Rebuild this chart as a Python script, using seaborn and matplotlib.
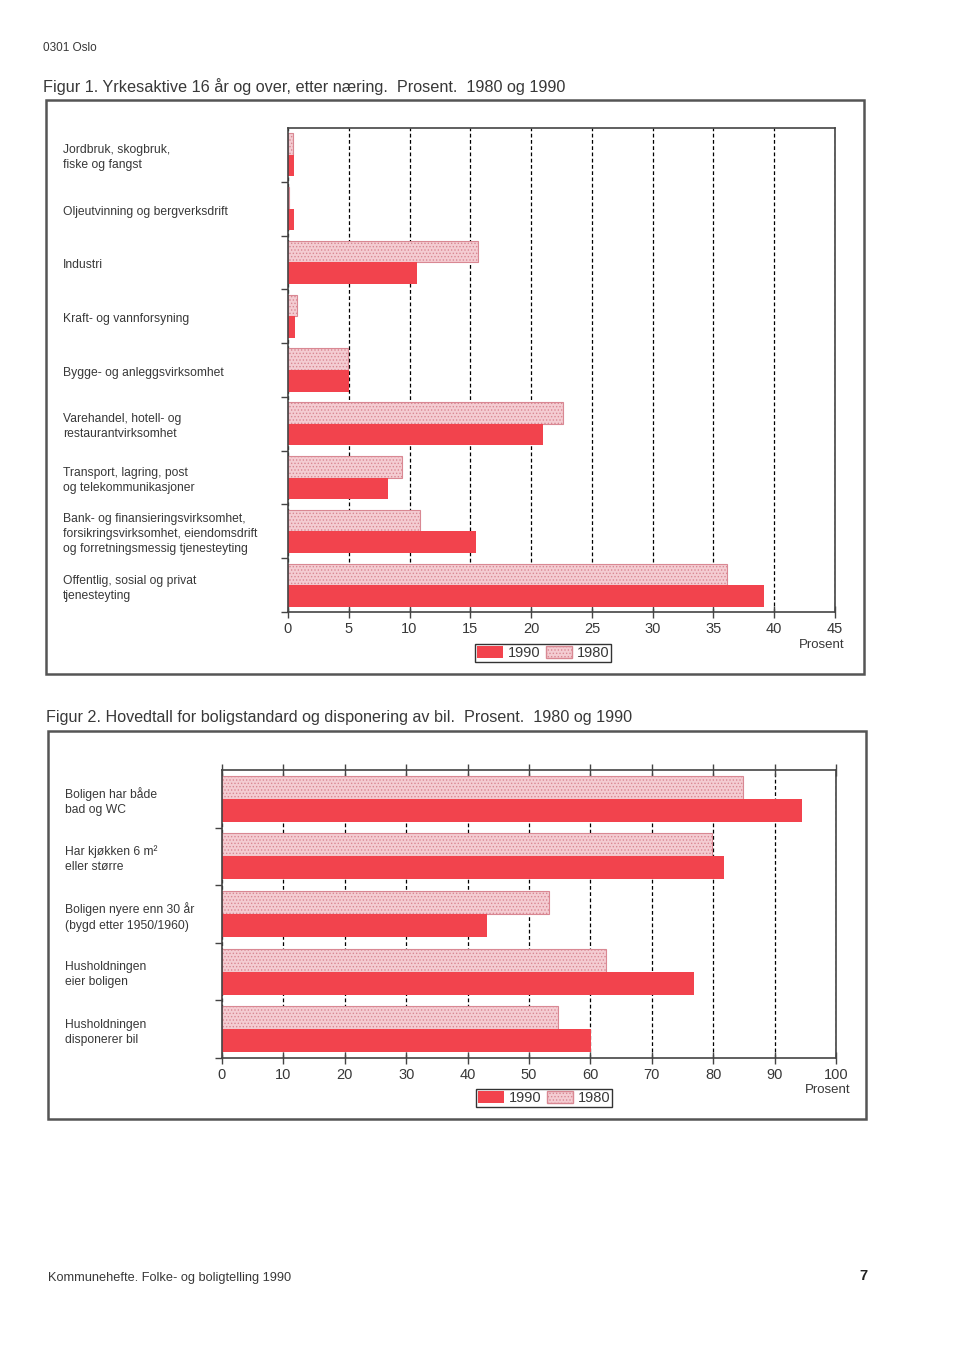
import numpy as np
import pandas as pd
import matplotlib.pyplot as plt
import matplotlib.transforms as mtransforms
from matplotlib.patches import Patch, Rectangle
import seaborn as sns

sns.set_style("white")
plt.rcParams["font.family"] = ["Liberation Sans", "DejaVu Sans"]
plt.rcParams["hatch.linewidth"] = 0.6

# Figur 1: yrkesaktive etter naering (prosent)
naering = [
    "Jordbruk, skogbruk,\nfiske og fangst",
    "Oljeutvinning og bergverksdrift",
    "Industri",
    "Kraft- og vannforsyning",
    "Bygge- og anleggsvirksomhet",
    "Varehandel, hotell- og\nrestaurantvirksomhet",
    "Transport, lagring, post\nog telekommunikasjoner",
    "Bank- og finansieringsvirksomhet,\nforsikringsvirksomhet, eiendomsdrift\nog forretningsmessig tjenesteyting",
    "Offentlig, sosial og privat\ntjenesteyting",
]
naering_1980 = [0.4, 0.1, 15.6, 0.7, 4.9, 22.6, 9.4, 10.9, 36.1]
naering_1990 = [0.5, 0.5, 10.6, 0.6, 5.0, 21.0, 8.2, 15.5, 39.2]

# Figur 2: boligstandard og bil (prosent)
bolig = [
    "Boligen har både\nbad og WC",
    "Har kjøkken 6 m²\neller større",
    "Boligen nyere enn 30 år\n(bygd etter 1950/1960)",
    "Husholdningen\neier boligen",
    "Husholdningen\ndisponerer bil",
]
bolig_1980 = [84.8, 79.8, 53.3, 62.6, 54.8]
bolig_1990 = [94.5, 81.7, 43.2, 76.8, 60.1]

aar = ["1980", "1990"]
rod = "#f2434d"
rosa = "#f4ccd2"
rosa_kant = "#d98893"
tekst = "#383838"
strek = "#444444"

W, H = 960, 1357
def fx(px):
    return px / W
def fy(py):
    return 1 - py / H

fig = plt.figure(figsize=(9.6, 13.57), dpi=100)


def tegn(ax, kat, v80, v90, xmax, step, lab_x):
    df = pd.DataFrame({
        "kategori": kat + kat,
        "verdi": v80 + v90,
        "aar": ["1980"] * len(kat) + ["1990"] * len(kat),
    })
    sns.barplot(data=df, x="verdi", y="kategori", hue="aar", hue_order=aar,
                palette={"1980": rosa, "1990": rod}, orient="h", width=0.8,
                saturation=1, legend=False, ax=ax)
    for bar in ax.containers[0]:
        bar.set_hatch(".....")
        bar.set_edgecolor(rosa_kant)
        bar.set_linewidth(0.8)
    for bar in ax.containers[1]:
        bar.set_edgecolor("none")
        bar.set_linewidth(0)

    ax.set_xlim(0, xmax)
    ax.set_ylim(len(kat) - 0.5, -0.5)
    ax.set_xticks(np.arange(0, xmax + 1, step))
    ax.set_yticks(np.arange(0.5, len(kat), 1))
    ax.set_yticklabels([])
    ax.set_xlabel("")
    ax.set_ylabel("")
    ax.grid(axis="x", color="black", linestyle=(0, (3, 2)), lw=0.9)
    ax.grid(axis="y", visible=False)
    ax.set_axisbelow(True)
    ax.tick_params(axis="y", direction="out", length=5, width=1, color=strek, left=True)
    ax.tick_params(axis="x", direction="inout", length=8, width=1, color=strek,
                   labelsize=10.5, labelcolor=tekst, pad=3, bottom=True)
    for s in ax.spines.values():
        s.set_visible(True)
        s.set_color(strek)
        s.set_linewidth(1.2)

    trans = mtransforms.blended_transform_factory(fig.transFigure, ax.transData)
    off = mtransforms.ScaledTranslation(0, -3 / 100, fig.dpi_scale_trans)
    for i, k in enumerate(kat):
        ax.text(lab_x, i, k, transform=trans + off, ha="left", va="center",
                fontsize=8.7, color=tekst, linespacing=1.35)


def legende(cx, cy):
    handles = [Patch(facecolor=rod, edgecolor="none", label="1990"),
               Patch(facecolor=rosa, edgecolor=rosa_kant, hatch=".....", label="1980")]
    leg = fig.legend(handles=handles, loc="center", bbox_to_anchor=(fx(cx), fy(cy)),
                     ncol=2, frameon=True, fancybox=False, edgecolor="black",
                     fontsize=10.5, handlelength=1.8, handleheight=0.8,
                     handletextpad=0.3, columnspacing=0.4, borderpad=0.15,
                     borderaxespad=0)
    leg.get_frame().set_linewidth(1)
    for t in leg.get_texts():
        t.set_color(tekst)


def ramme(x0, y0, x1, y1):
    fig.add_artist(Rectangle((fx(x0), fy(y1)), fx(x1) - fx(x0), fy(y0) - fy(y1),
                             transform=fig.transFigure, fill=False, lw=1.8, ec="#555555"))


# topptekst
fig.text(fx(43), fy(48), "0301 Oslo", fontsize=8.5, color=tekst, va="center")

# Figur 1
fig.text(fx(43), fy(87), "Figur 1. Yrkesaktive 16 år og over, etter næring.  Prosent.  1980 og 1990",
         fontsize=11.7, color=tekst, va="center")
ramme(46, 100, 864, 674)
ax1 = fig.add_axes([fx(288), fy(612), fx(835) - fx(288), fy(128) - fy(612)])
tegn(ax1, naering, naering_1980, naering_1990, 45, 5, fx(63))
fig.text(fx(845), fy(645), "Prosent", ha="right", va="center", fontsize=9.5, color=tekst)
legende(543, 653)

# Figur 2
fig.text(fx(46), fy(717), "Figur 2. Hovedtall for boligstandard og disponering av bil.  Prosent.  1980 og 1990",
         fontsize=11.6, color=tekst, va="center")
ramme(48, 731, 866, 1119)
ax2 = fig.add_axes([fx(222), fy(1058), fx(836) - fx(222), fy(770) - fy(1058)])
tegn(ax2, bolig, bolig_1980, bolig_1990, 100, 10, fx(65))
ax2.tick_params(axis="x", top=True, direction="inout", length=8)
fig.text(fx(851), fy(1090), "Prosent", ha="right", va="center", fontsize=9.5, color=tekst)
legende(544, 1098)

# bunntekst
fig.text(fx(48), fy(1278), "Kommunehefte. Folke- og boligtelling 1990", fontsize=9.2,
         color=tekst, va="center")
fig.text(fx(868), fy(1276), "7", fontsize=10.5, fontweight="bold", color="#222222",
         ha="right", va="center")

fig.savefig("out.png", dpi=100)
